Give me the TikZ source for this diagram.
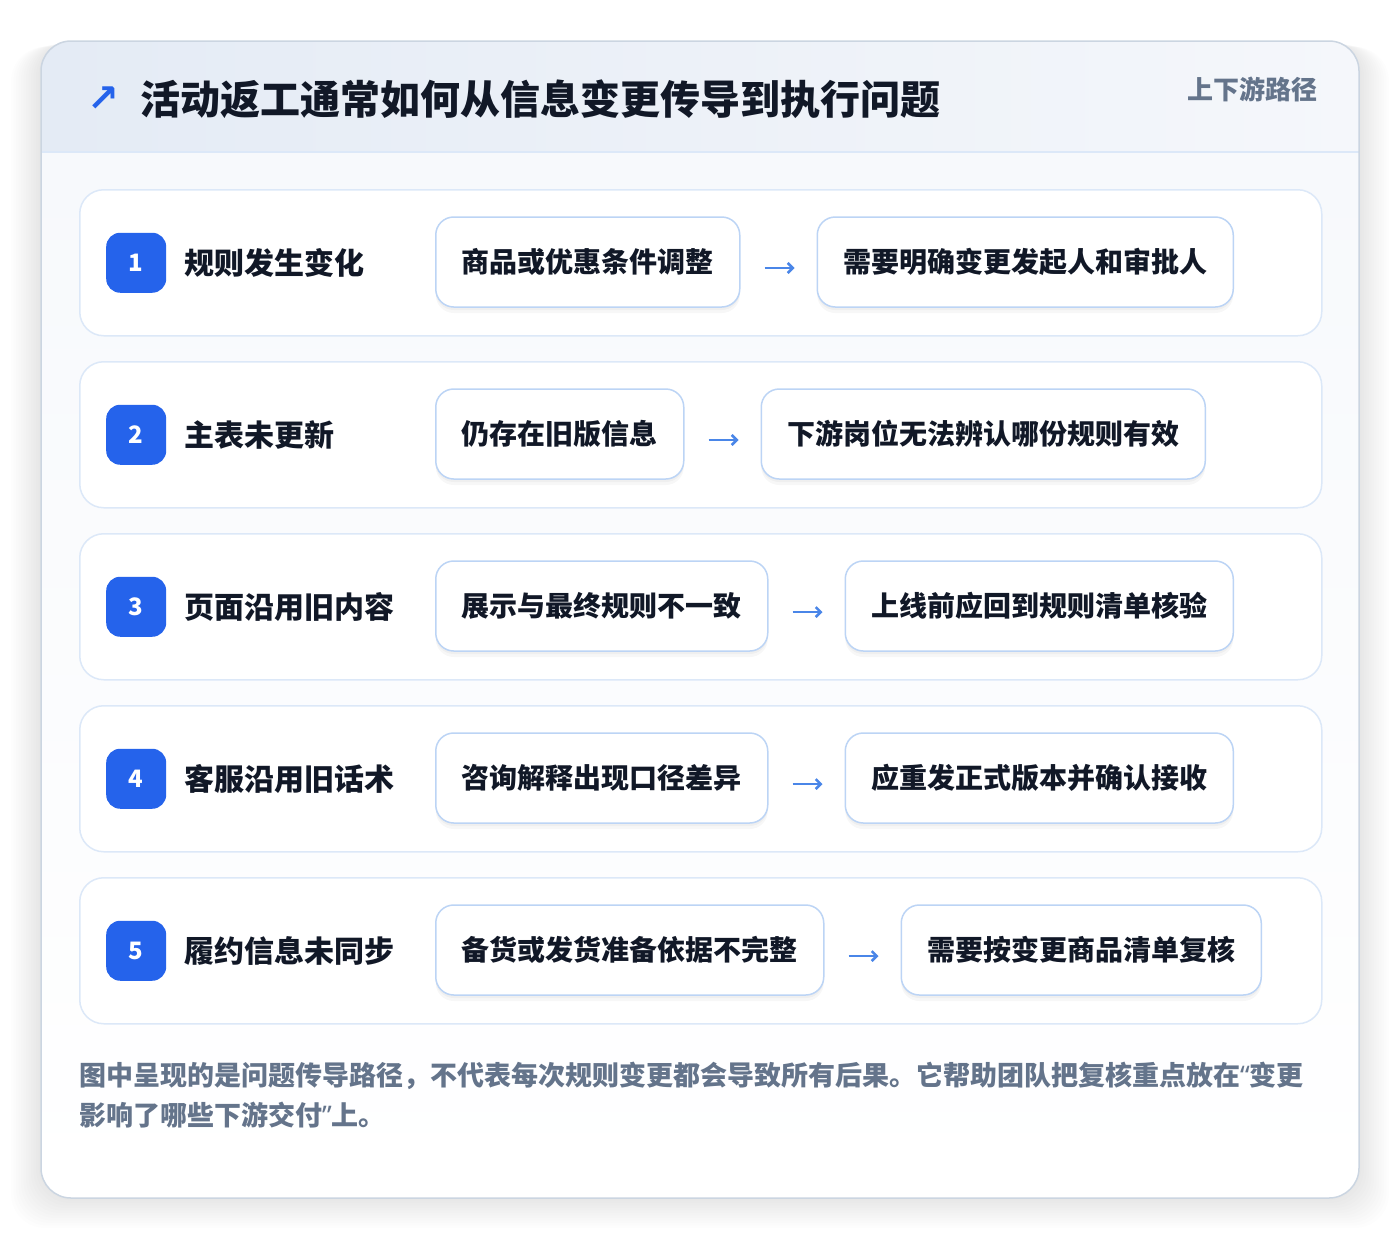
\documentclass[tikz,border=0pt]{standalone}
\usepackage{fontspec}
\setmainfont{Noto Sans CJK SC}
\newfontfamily\symfont{DejaVu Sans}
\newfontfamily\quotefont{Noto Sans}
\usepackage{tikz}
\usetikzlibrary{
    arrows.meta,
    positioning,
    shadows
}
\definecolor{ink}{HTML}{111827}
\definecolor{muted}{HTML}{64748B}
\definecolor{brand}{HTML}{2563EB}
\definecolor{flowblue}{HTML}{4A86E8}
\definecolor{rowline}{HTML}{DCE8F8}
\definecolor{boxline}{HTML}{BCD4F5}
\definecolor{cardline}{HTML}{CBD5E1}
\definecolor{headleft}{HTML}{E4EBF5}
\definecolor{headright}{HTML}{F5F7FB}
\definecolor{bodytop}{HTML}{F7F9FC}
\tikzset{
    rowbox/.style = {
        rectangle,
        rounded corners=24pt,
        draw=rowline,
        line width=1.5pt,
        fill=white,
        minimum width=1242pt,
        minimum height=146pt,
        anchor=north west
    },
    badge/.style = {
        rectangle,
        rounded corners=14pt,
        fill=brand,
        text=white,
        minimum size=60pt,
        font=\bfseries\fontsize{24}{24}\selectfont
    },
    stage/.style = {
        anchor=west,
        inner sep=0pt,
        text=ink,
        font=\bfseries\fontsize{30}{30}\selectfont
    },
    cause/.style = {
        rectangle,
        rounded corners=18pt,
        draw=boxline,
        line width=1.5pt,
        fill=white,
        minimum height=90pt,
        inner xsep=26pt,
        text=ink,
        font=\bfseries\fontsize{28}{28}\selectfont,
        drop shadow={shadow xshift=0pt, shadow yshift=-6pt, opacity=0.03, fill=black},
        drop shadow={shadow xshift=0pt, shadow yshift=-3pt, opacity=0.03, fill=black}
    },
    arrow/.style = {
        -{Straight Barb[length=5pt,width=10pt]},
        draw=flowblue,
        line width=2.5pt,
        shorten <=24pt,
        shorten >=22pt
    }
}

\begin{document}
\begin{tikzpicture}[x=1pt, y=-1pt]
\useasboundingbox (0,0) rectangle (1400,1240);
% soft shadow of the card
\foreach \s in {1,...,12}
    \fill[black, opacity=0.007, rounded corners=34pt]
        (41-\s*2.5, 41+\s*0.5) rectangle (1359+\s*2.5, 1198+\s*2.5);
% card
\begin{scope}
\clip[rounded corners=30pt] (41,41) rectangle (1359,1198);
\shade[top color=bodytop, bottom color=white] (41,152) rectangle (1359,1198);
\shade[left color=headleft, right color=headright] (41,41) rectangle (1359,152);
\draw[rowline, line width=1.5pt] (41,152) -- (1359,152);
\end{scope}
\draw[cardline, line width=1.5pt, rounded corners=30pt] (41,41) rectangle (1359,1198);

\node[text=brand, font=\symfont\bfseries\fontsize{38}{38}\selectfont] (icon) at (103,99) {↗};
\node[anchor=west, inner sep=0pt, text=ink, font=\bfseries\fontsize{40}{40}\selectfont]
    (title) at (140,99) {活动返工通常如何从信息变更传导到执行问题};
\node[anchor=east, inner sep=0pt, text=muted, font=\bfseries\fontsize{26}{26}\selectfont]
    (tag) at (1318,89) {上下游路径};

% row 1
\node[rowbox] (row1) at (79,189) {};
\node[badge, right=27pt of row1.west] (b1) {1};
\node[stage, right=18pt of b1] (s1) {规则发生变化};
\node[cause, anchor=west] (c1) at (435,262) {商品或优惠条件调整};
\node[cause, right=76pt of c1] (e1) {需要明确变更发起人和审批人};
\draw[arrow] ([yshift=-6pt]c1.east) -- ([yshift=-6pt]e1.west);

% row 2
\node[rowbox] (row2) at (79,361) {};
\node[badge, right=27pt of row2.west] (b2) {2};
\node[stage, right=18pt of b2] (s2) {主表未更新};
\node[cause, anchor=west] (c2) at (435,434) {仍存在旧版信息};
\node[cause, right=76pt of c2] (e2) {下游岗位无法辨认哪份规则有效};
\draw[arrow] ([yshift=-6pt]c2.east) -- ([yshift=-6pt]e2.west);

% row 3
\node[rowbox] (row3) at (79,533) {};
\node[badge, right=27pt of row3.west] (b3) {3};
\node[stage, right=18pt of b3] (s3) {页面沿用旧内容};
\node[cause, anchor=west] (c3) at (435,606) {展示与最终规则不一致};
\node[cause, right=76pt of c3] (e3) {上线前应回到规则清单核验};
\draw[arrow] ([yshift=-6pt]c3.east) -- ([yshift=-6pt]e3.west);

% row 4
\node[rowbox] (row4) at (79,705) {};
\node[badge, right=27pt of row4.west] (b4) {4};
\node[stage, right=18pt of b4] (s4) {客服沿用旧话术};
\node[cause, anchor=west] (c4) at (435,778) {咨询解释出现口径差异};
\node[cause, right=76pt of c4] (e4) {应重发正式版本并确认接收};
\draw[arrow] ([yshift=-6pt]c4.east) -- ([yshift=-6pt]e4.west);

% row 5
\node[rowbox] (row5) at (79,877) {};
\node[badge, right=27pt of row5.west] (b5) {5};
\node[stage, right=18pt of b5] (s5) {履约信息未同步};
\node[cause, anchor=west] (c5) at (435,950) {备货或发货准备依据不完整};
\node[cause, right=76pt of c5] (e5) {需要按变更商品清单复核};
\draw[arrow] ([yshift=-6pt]c5.east) -- ([yshift=-6pt]e5.west);

\node[anchor=west, inner sep=0pt, align=left, text=muted,
      font=\bfseries\fontsize{27}{40}\selectfont] (note) at (79,1095)
    {图中呈现的是问题传导路径，不代表每次规则变更都会导致所有后果。它帮助团队把复核重点放在{\quotefont “}变更\\影响了哪些下游交付{\quotefont ”}上。};
\end{tikzpicture}
\end{document}
